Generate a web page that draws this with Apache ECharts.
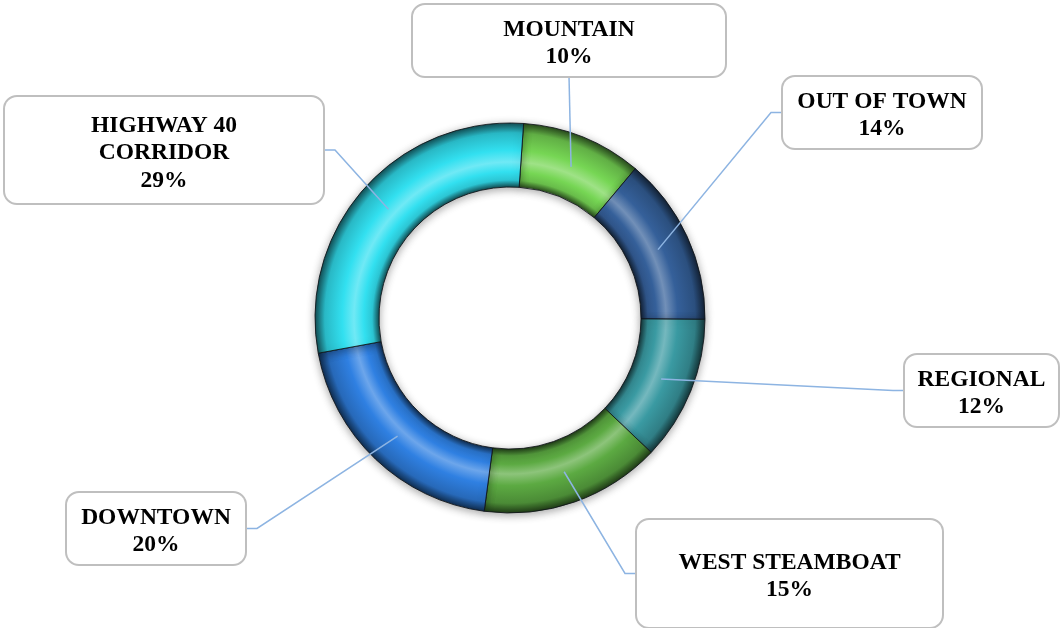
<!DOCTYPE html>
<html>
<head>
<meta charset="utf-8">
<script src="https://cdn.jsdelivr.net/npm/echarts@6/dist/echarts.min.js"></script>
<style>
  html, body { margin: 0; padding: 0; background: #fff; }
  #chart { width: 1060px; height: 628px; }
</style>
</head>
<body>
<div id="chart"></div>
<script>
// data
const categories = ['MOUNTAIN', 'OUT OF TOWN', 'REGIONAL', 'WEST STEAMBOAT', 'DOWNTOWN', 'HIGHWAY 40 CORRIDOR'];
const shares = [10, 14, 12, 15, 20, 29];
const colors = ['#76D654', '#35609A', '#3A9AA2', '#5CAA42', '#2F80E2', '#32E0F0'];

// label boxes: left, top, width, height, side the leader line joins
const boxes = [
  [413, 5, 312, 71, 'bottom'],
  [783, 77, 198, 71, 'left'],
  [905, 355, 153, 71, 'left'],
  [637, 520, 305, 107, 'left'],
  [67, 493, 178, 71, 'right'],
  [5, 97, 318, 106, 'right']
];
const wrapNames = { 'HIGHWAY 40 CORRIDOR': 'HIGHWAY 40\nCORRIDOR' };

const CX = 510, CY = 318, R_IN = 131, R_OUT = 195, R_MID = 163;
const START = 86;
const LINE_H = 27.5;
const TEXT_SHIFT = 3;

function mix(hex, target, f) {
  const n = parseInt(hex.slice(1), 16);
  const ch = [(n >> 16) & 255, (n >> 8) & 255, n & 255].map(function (c) {
    return Math.round(c + (target - c) * f);
  });
  return 'rgb(' + ch.join(',') + ')';
}
const shade = (c, f) => mix(c, 0, f);
const tint = (c, f) => mix(c, 255, f);

// tube-like shading across the ring
function ringFill(c) {
  const k = R_IN / R_OUT;
  return new echarts.graphic.RadialGradient(CX, CY, R_OUT, [
    { offset: 0, color: shade(c, 0.65) },
    { offset: k, color: shade(c, 0.65) },
    { offset: k + 0.035, color: shade(c, 0.12) },
    { offset: 0.75, color: c },
    { offset: 0.8, color: tint(c, 0.3) },
    { offset: 0.86, color: c },
    { offset: 0.95, color: shade(c, 0.18) },
    { offset: 1, color: shade(c, 0.65) }
  ], true);
}

const total = shares.reduce((a, b) => a + b, 0);
const midPoints = [];
let acc = 0;
shares.forEach(function (v) {
  const ang = (START - (acc + v / 2) / total * 360) * Math.PI / 180;
  midPoints.push([CX + R_MID * Math.cos(ang), CY - R_MID * Math.sin(ang)]);
  acc += v;
});

const ringData = categories.map(function (name, i) {
  return { name: name, value: shares[i], itemStyle: { color: ringFill(colors[i]) } };
});

const labelData = categories.map(function (name, i) {
  const b = boxes[i];
  const lines = (wrapNames[name] || name).split('\n').length + 1;
  const pv = (b[3] - lines * LINE_H) / 2;
  return {
    name: name,
    value: shares[i],
    label: { width: b[2], padding: [pv + TEXT_SHIFT, 0, pv - TEXT_SHIFT, 0] }
  };
});

const chart = echarts.init(document.getElementById('chart'));

chart.setOption({
  animation: false,
  backgroundColor: '#fff',
  series: [
    {
      type: 'pie',
      center: [CX, CY],
      radius: [R_IN, R_OUT],
      startAngle: START,
      clockwise: true,
      silent: true,
      label: { show: false },
      labelLine: { show: false },
      itemStyle: {
        borderColor: 'rgba(15,20,25,0.85)',
        borderWidth: 1,
        shadowBlur: 8,
        shadowOffsetY: 2,
        shadowColor: 'rgba(0,0,0,0.35)'
      },
      data: ringData
    },
    {
      type: 'pie',
      center: [CX, CY],
      radius: [0, R_MID],
      startAngle: START,
      clockwise: true,
      silent: true,
      z: 3,
      avoidLabelOverlap: false,
      itemStyle: { color: 'transparent', borderWidth: 0 },
      label: {
        show: true,
        position: 'outside',
        formatter: function (p) {
          return (wrapNames[p.name] || p.name) + '\n' + p.value + '%';
        },
        fontFamily: 'Liberation Serif',
        fontWeight: 'bold',
        fontSize: 23.5,
        lineHeight: LINE_H,
        color: '#000',
        align: 'center',
        backgroundColor: '#fff',
        borderColor: '#BFBFBF',
        borderWidth: 2,
        borderRadius: 12
      },
      labelLine: {
        show: true,
        lineStyle: { color: '#8DB4E2', width: 1.5 }
      },
      labelLayout: function (p) {
        const b = boxes[p.dataIndex];
        const bx = b[0] + b[2] / 2, by = b[1] + b[3] / 2;
        const s = midPoints[p.dataIndex];
        let pts;
        if (b[4] === 'bottom') {
          pts = [s, [bx, b[1] + b[3]]];
        } else if (b[4] === 'left') {
          pts = [s, [b[0] - 12, by], [b[0], by]];
        } else {
          pts = [s, [b[0] + b[2] + 12, by], [b[0] + b[2], by]];
        }
        return { x: bx, y: b[1], align: 'center', verticalAlign: 'top', labelLinePoints: pts };
      },
      data: labelData
    }
  ]
});
</script>
</body>
</html>
